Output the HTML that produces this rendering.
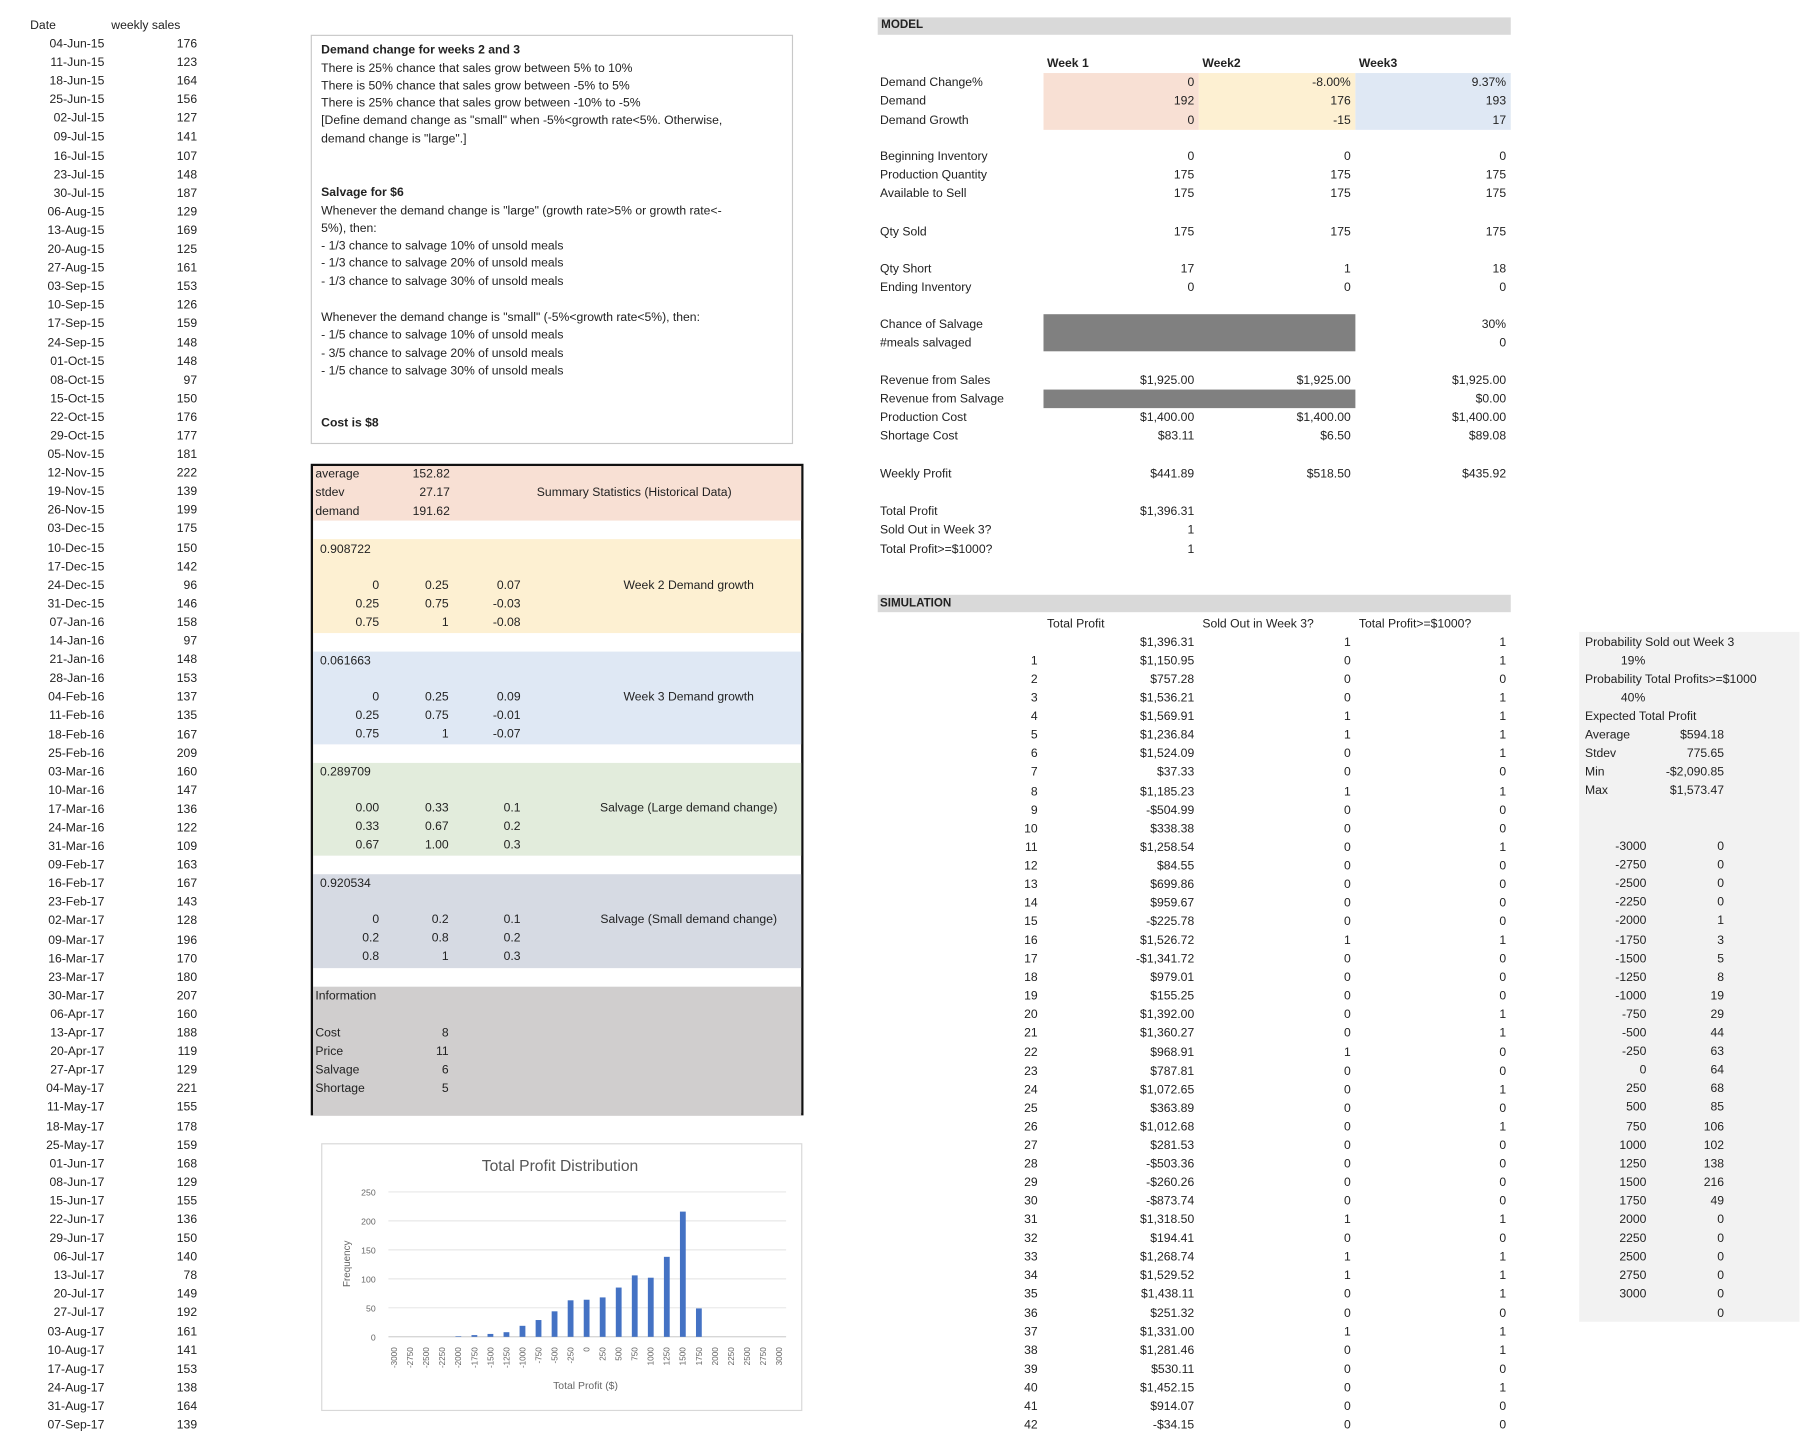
<!DOCTYPE html>
<html><head><meta charset="utf-8">
<style>
html,body{margin:0;padding:0;background:#fff;overflow:hidden;width:1818px;height:1438px}
#wrap{position:absolute;left:0;top:0;width:1568px;height:1240px;transform-origin:0 0;transform:scale(1.15944);font-family:"Liberation Sans Narrow","Liberation Sans",sans-serif;font-size:10.5px;color:#222}
.t{position:absolute;white-space:nowrap;line-height:14px;height:14px}
.r{text-align:right;width:220px}
.c{text-align:center;width:200px}
.b{position:absolute}
</style></head><body>
<div id="wrap">
<div class="b" style="left:268px;top:30px;width:414px;height:351px;border:1px solid #c8c8c8"></div>
<div class="b" style="left:268px;top:400px;width:425px;height:562px;border:2px solid #111;box-sizing:border-box;background:#fff"></div>
<div class="b" style="left:277px;top:986px;width:413px;height:229px;border:1px solid #d8d8d8"></div>
<div class="b" style="left:757px;top:15px;width:546px;height:15px;background:#d9d9d9"></div>
<div class="b" style="left:757px;top:513px;width:546px;height:15px;background:#d9d9d9"></div>
<div class="b" style="left:900px;top:63px;width:134px;height:49px;background:#f8e0d4"></div>
<div class="b" style="left:1034px;top:63px;width:135px;height:49px;background:#fdf0d2"></div>
<div class="b" style="left:1169px;top:63px;width:134px;height:49px;background:#dfe8f4"></div>
<div class="b" style="left:900px;top:271px;width:269px;height:32px;background:#808080"></div>
<div class="b" style="left:900px;top:336px;width:269px;height:16px;background:#808080"></div>
<div class="b" style="left:1362px;top:545px;width:190px;height:595px;background:#f2f2f2"></div>
<svg id="chart" style="position:absolute;left:0;top:0" width="1568" height="1240"></svg>
</div>
<script>
const wrap=document.getElementById('wrap');
function T(x,y,s,al,name,extra){const d=document.createElement('div');d.className='t'+(al==='r'?' r':al==='c'?' c':'');


let l=al==='r'?x-220:al==='c'?x-100:x;d.style.left=l+'px';d.style.top=(y-7)+'px';if(extra)d.style.cssText+=extra;d.textContent=s;wrap.appendChild(d);return d;}
function B(x,y,w,h,c,name){const d=document.createElement('div');d.className='b';


d.style.cssText+=`left:${x}px;top:${y}px;width:${w}px;height:${h}px;background:${c}`;wrap.insertBefore(d,wrap.children[2]);}
// historical
const dates=["04-Jun-15","11-Jun-15","18-Jun-15","25-Jun-15","02-Jul-15","09-Jul-15","16-Jul-15","23-Jul-15","30-Jul-15","06-Aug-15","13-Aug-15","20-Aug-15","27-Aug-15","03-Sep-15","10-Sep-15","17-Sep-15","24-Sep-15","01-Oct-15","08-Oct-15","15-Oct-15","22-Oct-15","29-Oct-15","05-Nov-15","12-Nov-15","19-Nov-15","26-Nov-15","03-Dec-15","10-Dec-15","17-Dec-15","24-Dec-15","31-Dec-15","07-Jan-16","14-Jan-16","21-Jan-16","28-Jan-16","04-Feb-16","11-Feb-16","18-Feb-16","25-Feb-16","03-Mar-16","10-Mar-16","17-Mar-16","24-Mar-16","31-Mar-16","09-Feb-17","16-Feb-17","23-Feb-17","02-Mar-17","09-Mar-17","16-Mar-17","23-Mar-17","30-Mar-17","06-Apr-17","13-Apr-17","20-Apr-17","27-Apr-17","04-May-17","11-May-17","18-May-17","25-May-17","01-Jun-17","08-Jun-17","15-Jun-17","22-Jun-17","29-Jun-17","06-Jul-17","13-Jul-17","20-Jul-17","27-Jul-17","03-Aug-17","10-Aug-17","17-Aug-17","24-Aug-17","31-Aug-17","07-Sep-17"];
const sales=[176,123,164,156,127,141,107,148,187,129,169,125,161,153,126,159,148,148,97,150,176,177,181,222,139,199,175,150,142,96,146,158,97,148,153,137,135,167,209,160,147,136,122,109,163,167,143,128,196,170,180,207,160,188,119,129,221,155,178,159,168,129,155,136,150,140,78,149,192,161,141,153,138,164,139];
T(26,22,"Date","l","date-header");T(96,22,"weekly sales","l","sales-header");
const P=16.095;
dates.forEach((d,i)=>{const y=38+i*P;T(90,y,d,"r","date-cell");T(170,y,String(sales[i]),"r","sales-cell");});
// text box
const tb=[[43,"Demand change for weeks 2 and 3",1],[59,"There is 25% chance that sales grow between 5% to 10%"],[74,"There is 50% chance that sales grow between -5% to 5%"],[89,"There is 25% chance that sales grow between -10% to -5%"],[104,"[Define demand change as \"small\" when -5%<growth rate<5%. Otherwise,"],[120,"demand change is \"large\".]"],[166,"Salvage for $6",1],[182,"Whenever the demand change is \"large\" (growth rate>5% or growth rate<-"],[197,"5%), then:"],[212,"- 1/3 chance to salvage 10% of unsold meals"],[227,"- 1/3 chance to salvage 20% of unsold meals"],[243,"- 1/3 chance to salvage 30% of unsold meals"],[274,"Whenever the demand change is \"small\" (-5%<growth rate<5%), then:"],[289,"- 1/5 chance to salvage 10% of unsold meals"],[305,"- 3/5 chance to salvage 20% of unsold meals"],[320,"- 1/5 chance to salvage 30% of unsold meals"],[365,"Cost is $8",1]];
tb.forEach(a=>T(277,a[0],a[1],"l","assumption-text",a[2]?"font-weight:bold":""));
// summary table sections
B(270,402,421,47,"#f8e0d4","stats-section");B(270,465,421,81,"#fdf0d2","week2-section");B(270,562,421,80,"#dfe8f4","week3-section");B(270,658,421,80,"#e2ecdc","salvage-large-section");B(270,754,421,81,"#d6dae3","salvage-small-section");B(270,851,421,111,"#d0cece","info-section");
[[409,"average","152.82"],[425,"stdev","27.17"],[441,"demand","191.62"]].forEach(a=>{T(272,a[0],a[1],"l","stat-label");T(388,a[0],a[2],"r","stat-value");});
T(547,425,"Summary Statistics (Historical Data)","c","stats-title");
const sects=[[474,"0.908722",[["0","0.25","0.07"],["0.25","0.75","-0.03"],["0.75","1","-0.08"]],"Week 2 Demand growth"],[570,"0.061663",[["0","0.25","0.09"],["0.25","0.75","-0.01"],["0.75","1","-0.07"]],"Week 3 Demand growth"],[666,"0.289709",[["0.00","0.33","0.1"],["0.33","0.67","0.2"],["0.67","1.00","0.3"]],"Salvage (Large demand change)"],[762,"0.920534",[["0","0.2","0.1"],["0.2","0.8","0.2"],["0.8","1","0.3"]],"Salvage (Small demand change)"]];
sects.forEach(s=>{T(276,s[0],s[1],"l","random-number");s[2].forEach((r,j)=>{const y=s[0]+31+j*16;T(327,y,r[0],"r","range-low");T(387,y,r[1],"r","range-high");T(449,y,r[2],"r","range-value");});T(594,s[0]+31,s[3],"c","section-title");});
T(272,859,"Information","l","info-title");
[[891,"Cost","8"],[907,"Price","11"],[923,"Salvage","6"],[939,"Shortage","5"]].forEach(a=>{T(272,a[0],a[1],"l","info-label");T(387,a[0],a[2],"r","info-value");});
// model
T(760,22,"MODEL","l","model-title","font-weight:bold;font-size:10px");
T(903,55,"Week 1","l","week1-header","font-weight:bold");T(1037,55,"Week2","l","week2-header","font-weight:bold");T(1172,55,"Week3","l","week3-header","font-weight:bold");
const model=[[71,"Demand Change%","0","-8.00%","9.37%"],[87,"Demand","192","176","193"],[104,"Demand Growth","0","-15","17"],[135,"Beginning Inventory","0","0","0"],[151,"Production Quantity","175","175","175"],[167,"Available to Sell","175","175","175"],[200,"Qty Sold","175","175","175"],[232,"Qty Short","17","1","18"],[248,"Ending Inventory","0","0","0"],[280,"Chance of Salvage","","","30%"],[296,"#meals salvaged","","","0"],[328,"Revenue from Sales","$1,925.00","$1,925.00","$1,925.00"],[344,"Revenue from Salvage","","","$0.00"],[360,"Production Cost","$1,400.00","$1,400.00","$1,400.00"],[376,"Shortage Cost","$83.11","$6.50","$89.08"],[409,"Weekly Profit","$441.89","$518.50","$435.92"],[441,"Total Profit","$1,396.31","",""],[457,"Sold Out in Week 3?","1","",""],[474,"Total Profit>=$1000?","1","",""]];
model.forEach(m=>{T(759,m[0],m[1],"l","model-label");if(m[2])T(1030,m[0],m[2],"r","week1-value");if(m[3])T(1165,m[0],m[3],"r","week2-value");if(m[4])T(1299,m[0],m[4],"r","week3-value");});
// simulation
T(759,521,"SIMULATION","l","simulation-title","font-weight:bold;font-size:10px");
T(903,538,"Total Profit","l","sim-header-profit");T(1037,538,"Sold Out in Week 3?","l","sim-header-soldout");T(1172,538,"Total Profit>=$1000?","l","sim-header-threshold");
const simProfit=["$1,396.31","$1,150.95","$757.28","$1,536.21","$1,569.91","$1,236.84","$1,524.09","$37.33","$1,185.23","-$504.99","$338.38","$1,258.54","$84.55","$699.86","$959.67","-$225.78","$1,526.72","-$1,341.72","$979.01","$155.25","$1,392.00","$1,360.27","$968.91","$787.81","$1,072.65","$363.89","$1,012.68","$281.53","-$503.36","-$260.26","-$873.74","$1,318.50","$194.41","$1,268.74","$1,529.52","$1,438.11","$251.32","$1,331.00","$1,281.46","$530.11","$1,452.15","$914.07","-$34.15"];
const simSold=[1,0,0,0,1,1,0,0,1,0,0,0,0,0,0,0,1,0,0,0,0,0,1,0,0,0,0,0,0,0,0,1,0,1,1,0,0,1,0,0,0,0,0];
const simOver=[1,1,0,1,1,1,1,0,1,0,0,1,0,0,0,0,1,0,0,0,1,1,0,0,1,0,1,0,0,0,0,1,0,1,1,1,0,1,1,0,1,0,0];
simProfit.forEach((p,i)=>{const y=554+i*16.07;if(i>0)T(895,y,String(i),"r","sim-index");T(1030,y,p,"r","sim-profit");T(1165,y,String(simSold[i]),"r","sim-soldout");T(1299,y,String(simOver[i]),"r","sim-threshold");});
// results panel
T(1367,554,"Probability Sold out Week 3","l","prob-soldout-label");T(1398,570,"19%","l","prob-soldout-value");
T(1367,586,"Probability Total Profits>=$1000","l","prob-profit-label");T(1398,602,"40%","l","prob-profit-value");
T(1367,618,"Expected Total Profit","l","expected-profit-label");
[[634,"Average","$594.18"],[650,"Stdev","775.65"],[666,"Min","-$2,090.85"],[682,"Max","$1,573.47"]].forEach(a=>{T(1367,a[0],a[1],"l","stat-label");T(1487,a[0],a[2],"r","stat-value");});
const bins=[-3000,-2750,-2500,-2250,-2000,-1750,-1500,-1250,-1000,-750,-500,-250,0,250,500,750,1000,1250,1500,1750,2000,2250,2500,2750,3000];
const freq=[0,0,0,0,1,3,5,8,19,29,44,63,64,68,85,106,102,138,216,49,0,0,0,0,0];
bins.forEach((b,i)=>{const y=730+i*16.1;T(1420,y,String(b),"r","bin");T(1487,y,String(freq[i]),"r","bin-frequency");});
T(1487,730+25*16.1,"0","r","bin-frequency");
// chart
const yTicks=[0,50,100,150,200,250];
const svg=document.getElementById('chart');const NS="http://www.w3.org/2000/svg";
function E(tag,at,name,txt){const e=document.createElementNS(NS,tag);for(const k in at)e.setAttribute(k,at[k]);


if(txt!==undefined)e.textContent=txt;svg.appendChild(e);return e;}
const x0=340,xs=13.83,yb=1153,yt=1028,ymax=250;
const X=i=>x0+i*xs, Y=v=>yb-(v/ymax)*(yb-yt);
yTicks.forEach(v=>{E('line',{x1:335,x2:678,y1:Y(v),y2:Y(v),stroke:v===0?'#bfbfbf':'#e2e2e2','stroke-width':0.8},'gridline');E('text',{x:324,y:Y(v)+3,'text-anchor':'end','font-size':7.5,fill:'#666','font-family':'Liberation Sans, sans-serif'},'y-tick-label',String(v));});
bins.forEach((b,i)=>{const h=yb-Y(freq[i]);if(freq[i]>0)E('rect',{x:X(i)-2.5,y:Y(freq[i]),width:5,height:h,fill:'#4472c4'},'bar');
const tx=E('text',{x:X(i)+2.5,y:1162,transform:`rotate(-90 ${X(i)+2.5} 1162)`,'text-anchor':'end','font-size':7,fill:'#666','font-family':'Liberation Sans, sans-serif'},'x-tick-label',String(b));});
E('text',{x:483,y:1010,'text-anchor':'middle','font-size':13.5,fill:'#555','font-family':'Liberation Sans, sans-serif'},'chart-title','Total Profit Distribution');
E('text',{x:505,y:1198,'text-anchor':'middle','font-size':9,fill:'#666','font-family':'Liberation Sans, sans-serif'},'x-axis-title','Total Profit ($)');
E('text',{x:302,y:1090,'text-anchor':'middle','font-size':8.5,fill:'#666',transform:'rotate(-90 302 1090)','font-family':'Liberation Sans, sans-serif'},'y-axis-title','Frequency');
</script>
</body></html>
